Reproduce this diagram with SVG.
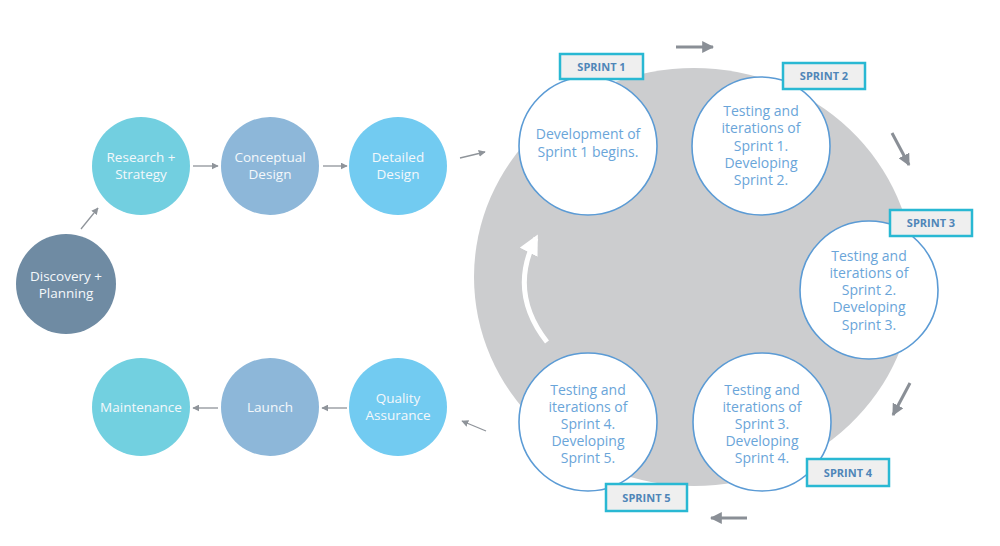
<svg xmlns="http://www.w3.org/2000/svg" width="1000" height="546" viewBox="0 0 1000 546">
<defs>
<style>
.phase text{font-family:"Open Sans","Liberation Sans",sans-serif;font-size:13.5px;fill:#f4f8fb;text-anchor:middle}
.sprint circle{fill:#ffffff;stroke:#5b9bd5;stroke-width:1.6}
.sprint text{font-family:"Open Sans","Liberation Sans",sans-serif;font-size:14px;fill:#6aa5d9;text-anchor:middle}
.tag rect{fill:#efefef;stroke:#29b8d3;stroke-width:2.5}
.tag text{font-family:"Open Sans","Liberation Sans",sans-serif;font-size:11px;font-weight:bold;fill:#4f86b8;text-anchor:middle}
.thin{stroke:#8f949a;stroke-width:1.3;fill:none;marker-end:url(#ah)}
.thick{stroke:#8a8f96;stroke-width:3;fill:none;marker-end:url(#ahb)}
</style>
<marker id="ah" viewBox="0 0 10 10" refX="9" refY="5" markerWidth="7" markerHeight="7" markerUnits="userSpaceOnUse" orient="auto"><path d="M0,0 L10,5 L0,10 Z" fill="#8f949a"/></marker>
<marker id="ahb" viewBox="0 0 10 10" refX="9" refY="5" markerWidth="12" markerHeight="12" markerUnits="userSpaceOnUse" orient="auto"><path d="M0,0 L10,5 L0,10 Z" fill="#8a8f96"/></marker>
<marker id="ahw" viewBox="0 0 10 10" refX="8" refY="5" markerWidth="20" markerHeight="20" markerUnits="userSpaceOnUse" orient="auto"><path d="M0,0 L10,5 L0,10 Z" fill="#ffffff"/></marker>
</defs>
<rect width="1000" height="546" fill="#ffffff"/>
<ellipse cx="694" cy="277" rx="220" ry="209" fill="#cccdcf"/>
<path d="M547,342 Q508,292 536,238" stroke="#ffffff" stroke-width="5" fill="none" marker-end="url(#ahw)"/>
<g id="connectors">
<line class="thin" x1="81" y1="229" x2="98" y2="208"/>
<line class="thin" x1="193" y1="166" x2="218" y2="166"/>
<line class="thin" x1="323" y1="166" x2="347" y2="166"/>
<line class="thin" x1="460" y1="158" x2="485" y2="152"/>
<line class="thin" x1="218" y1="408" x2="193" y2="408"/>
<line class="thin" x1="347" y1="408" x2="322" y2="408"/>
<line class="thin" x1="486" y1="431" x2="462" y2="421"/>
<line class="thick" x1="676" y1="47" x2="713" y2="47"/>
<line class="thick" x1="892" y1="133" x2="909" y2="165"/>
<line class="thick" x1="910" y1="383" x2="893" y2="415"/>
<line class="thick" x1="747" y1="518" x2="711" y2="518"/>
</g>
<g id="discovery" class="phase"><circle cx="66" cy="284" r="50" fill="#6f8ba3"/><text x="66" y="281">Discovery +</text><text x="66" y="298">Planning</text></g>
<g id="research" class="phase"><circle cx="141" cy="166" r="49" fill="#72cfe0"/><text x="141" y="162">Research +</text><text x="141" y="179">Strategy</text></g>
<g id="conceptual" class="phase"><circle cx="270" cy="166" r="49" fill="#8db7d9"/><text x="270" y="162">Conceptual</text><text x="270" y="179">Design</text></g>
<g id="detailed" class="phase"><circle cx="398" cy="166" r="49" fill="#72cbf1"/><text x="398" y="162">Detailed</text><text x="398" y="179">Design</text></g>
<g id="maintenance" class="phase"><circle cx="141" cy="407" r="49" fill="#72d0e0"/><text x="141" y="412">Maintenance</text></g>
<g id="launch" class="phase"><circle cx="270" cy="407" r="49" fill="#8db7d9"/><text x="270" y="412">Launch</text></g>
<g id="qa" class="phase"><circle cx="398" cy="407" r="49" fill="#72cbf1"/><text x="398" y="403">Quality</text><text x="398" y="420">Assurance</text></g>
<g id="sprint1" class="sprint"><circle cx="588" cy="146" r="69"/><text x="588" y="139">Development of</text><text x="588" y="157">Sprint 1 begins.</text></g>
<g id="sprint2" class="sprint"><circle cx="761" cy="146" r="69"/><text x="761" y="116">Testing and</text><text x="761" y="133">iterations of</text><text x="761" y="151">Sprint 1.</text><text x="761" y="168">Developing</text><text x="761" y="185">Sprint 2.</text></g>
<g id="sprint3" class="sprint"><circle cx="869" cy="290" r="69"/><text x="869" y="261">Testing and</text><text x="869" y="278">iterations of</text><text x="869" y="295">Sprint 2.</text><text x="869" y="312">Developing</text><text x="869" y="330">Sprint 3.</text></g>
<g id="sprint4" class="sprint"><circle cx="762" cy="422" r="69"/><text x="762" y="395">Testing and</text><text x="762" y="412">iterations of</text><text x="762" y="429">Sprint 3.</text><text x="762" y="446">Developing</text><text x="762" y="463">Sprint 4.</text></g>
<g id="sprint5" class="sprint"><circle cx="588" cy="422" r="69"/><text x="588" y="395">Testing and</text><text x="588" y="412">iterations of</text><text x="588" y="429">Sprint 4.</text><text x="588" y="446">Developing</text><text x="588" y="463">Sprint 5.</text></g>
<g id="tag1" class="tag"><rect x="560" y="54" width="83" height="25"/><text x="601.5" y="70.5">SPRINT 1</text></g>
<g id="tag2" class="tag"><rect x="783" y="63" width="82" height="26"/><text x="824" y="80">SPRINT 2</text></g>
<g id="tag3" class="tag"><rect x="890" y="210" width="82" height="26"/><text x="931" y="227">SPRINT 3</text></g>
<g id="tag4" class="tag"><rect x="807" y="459" width="82" height="27"/><text x="848" y="476.5">SPRINT 4</text></g>
<g id="tag5" class="tag"><rect x="606" y="484" width="81" height="27"/><text x="646.5" y="501.5">SPRINT 5</text></g>
</svg>
